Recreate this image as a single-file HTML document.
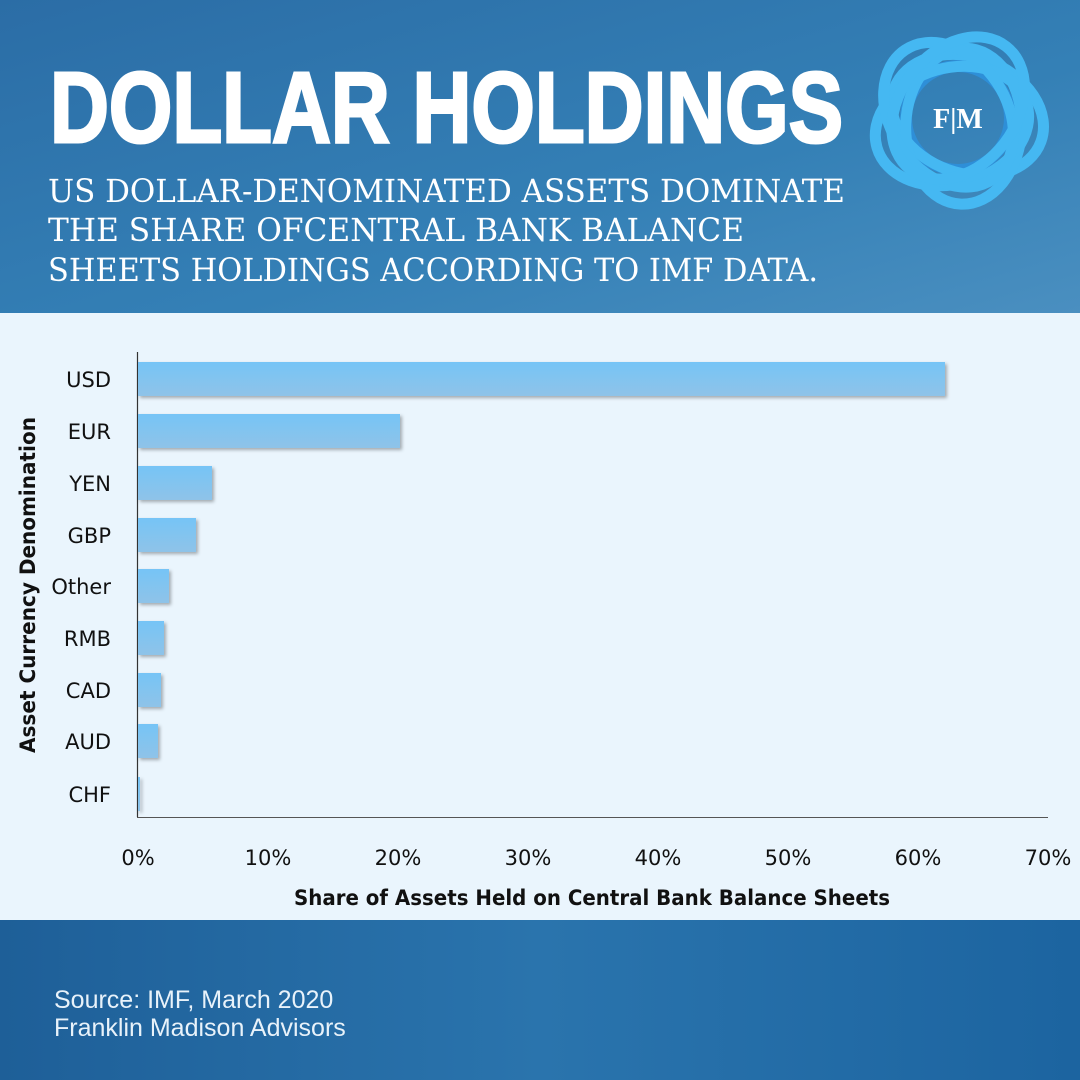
<!DOCTYPE html>
<html><head><meta charset="utf-8"><style>
html,body{margin:0;padding:0;width:1080px;height:1080px;overflow:hidden}
</style></head><body>
<svg width="1080" height="1080" xmlns="http://www.w3.org/2000/svg" font-family="Liberation Sans, sans-serif">
<defs>
<linearGradient id="hd" x1="0" y1="0" x2="1" y2="1">
<stop offset="0" stop-color="#2b6da6"/><stop offset="0.6" stop-color="#3480b6"/><stop offset="1" stop-color="#4a8fc0"/></linearGradient>
<linearGradient id="ft" x1="0" y1="0" x2="1" y2="0">
<stop offset="0" stop-color="#1e5f98"/><stop offset="0.5" stop-color="#2a74ad"/><stop offset="1" stop-color="#1c64a0"/></linearGradient>
<linearGradient id="bar" x1="0" y1="0" x2="0" y2="1">
<stop offset="0" stop-color="#76c4f6"/><stop offset="1" stop-color="#8fc3e8"/></linearGradient>
</defs>
<rect width="1080" height="313" fill="url(#hd)"/>
<rect y="313" width="1080" height="607" fill="#eaf5fd"/>
<rect y="920" width="1080" height="160" fill="url(#ft)"/>
<text x="50" y="142" font-size="100" font-weight="bold" fill="#fff" stroke="#fff" stroke-width="3" textLength="793" lengthAdjust="spacingAndGlyphs">DOLLAR HOLDINGS</text>
<g font-family="DejaVu Serif, Liberation Serif, serif" font-size="32" fill="#fff">
<text x="48" y="202" textLength="797" lengthAdjust="spacingAndGlyphs">US DOLLAR-DENOMINATED ASSETS DOMINATE</text>
<text x="48" y="241" textLength="696" lengthAdjust="spacingAndGlyphs">THE SHARE OFCENTRAL BANK BALANCE</text>
<text x="48" y="281" textLength="770" lengthAdjust="spacingAndGlyphs">SHEETS HOLDINGS ACCORDING TO IMF DATA.</text>
</g>
<g transform="translate(958,118)" fill="none">
<g stroke="#2e8fd8" stroke-width="12">
<circle r="52"/>
</g>
<g stroke="#45b8f2" stroke-width="11">
<ellipse cx="8" cy="-6" rx="78" ry="58" transform="rotate(20)"/>
<ellipse cx="8" cy="-6" rx="78" ry="58" transform="rotate(92)"/>
<ellipse cx="8" cy="-6" rx="78" ry="58" transform="rotate(164)"/>
<ellipse cx="8" cy="-6" rx="78" ry="58" transform="rotate(236)"/>
<ellipse cx="8" cy="-6" rx="78" ry="58" transform="rotate(308)"/>
</g>
<text x="0" y="10" font-family="Liberation Serif, serif" font-weight="bold" font-size="28" fill="#fff" stroke="none" text-anchor="middle">F|M</text>
</g>
<line x1="137.5" y1="352" x2="137.5" y2="817" stroke="#333" stroke-width="1.2"/>
<line x1="137" y1="817.5" x2="1048" y2="817.5" stroke="#555" stroke-width="1"/>
<g fill="url(#bar)" style="filter:drop-shadow(2px 2px 1.5px rgba(0,0,0,0.3))">
<rect x="138" y="362" width="807" height="34"/>
<rect x="138" y="414" width="262" height="34"/>
<rect x="138" y="466" width="74" height="34"/>
<rect x="138" y="518" width="58" height="34"/>
<rect x="138" y="569" width="31" height="34"/>
<rect x="138" y="621" width="26" height="34"/>
<rect x="138" y="673" width="23" height="34"/>
<rect x="138" y="724" width="20" height="34"/>
<rect x="138" y="777" width="2" height="34"/>
</g>
<g font-family="DejaVu Sans, sans-serif" font-size="21" fill="#111" text-anchor="end">
<text x="111" y="387">USD</text><text x="111" y="439">EUR</text><text x="111" y="491">YEN</text>
<text x="111" y="543">GBP</text><text x="111" y="594">Other</text><text x="111" y="646">RMB</text>
<text x="111" y="698">CAD</text><text x="111" y="749">AUD</text><text x="111" y="802">CHF</text>
</g>
<g font-family="DejaVu Sans, sans-serif" font-size="21" fill="#111" text-anchor="middle">
<text x="138" y="865">0%</text><text x="268" y="865">10%</text><text x="398" y="865">20%</text>
<text x="528" y="865">30%</text><text x="658" y="865">40%</text><text x="788" y="865">50%</text>
<text x="918" y="865">60%</text><text x="1048" y="865">70%</text>
<text x="592" y="905" font-weight="bold" textLength="596" lengthAdjust="spacingAndGlyphs">Share of Assets Held on Central Bank Balance Sheets</text>
<text transform="translate(35,585) rotate(-90)" font-weight="bold" textLength="336" lengthAdjust="spacingAndGlyphs">Asset Currency Denomination</text>
</g>
<g font-size="25" fill="#e8f2fa">
<text x="54" y="1008">Source: IMF, March 2020</text>
<text x="54" y="1036">Franklin Madison Advisors</text>
</g>
</svg>
</body></html>
